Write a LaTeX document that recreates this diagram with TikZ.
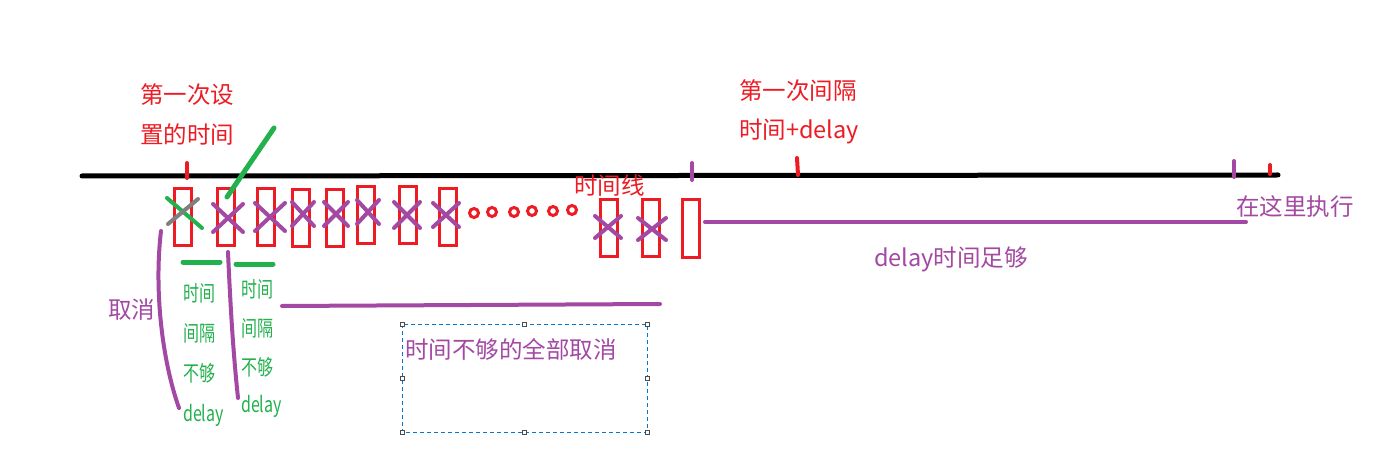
\documentclass[tikz,border=0pt]{standalone}
\usepackage{fontspec}
\usepackage{graphicx}
\setmainfont{Noto Sans CJK SC}
\definecolor{paintred}{HTML}{ED1C24}
\definecolor{paintpurple}{HTML}{A349A4}
\definecolor{paintgreen}{HTML}{22B14C}
\definecolor{paintgray}{HTML}{7F7F7F}
\definecolor{selblue}{HTML}{0078D7}
\newcommand{\tallnote}[1]{\scalebox{1}[1.35]{#1}}
\begin{document}
\begin{tikzpicture}[x=1pt,y=-1pt,
    slot/.style={draw=paintred,line width=3pt,minimum width=17pt,minimum height=57pt,inner sep=0pt},
    cross/.style={paintpurple,line width=4pt,line cap=round},
    pen/.style={line width=#1,line cap=round},
    label/.style={text=#1,font=\fontsize{23.5}{28}\selectfont,anchor=west,inner sep=0pt},
    note/.style={text=paintgreen,font=\fontsize{16}{20}\selectfont,anchor=west,inner sep=0pt},
    handle/.style={draw=black!70,fill=white,line width=0.8pt,minimum size=4pt,inner sep=0pt}]
  \fill[white] (0,0) rectangle (1388,470);
  \useasboundingbox (0,0) rectangle (1388,470);
  % time line and its ticks
  \draw[pen=5pt] (82,176) -- (1278,175);
  \draw[pen=4pt,paintred] (187,163) -- (187,178);
  \draw[pen=4pt,paintpurple] (692,163) -- (692,180);
  \draw[pen=4pt,paintred] (797,158) -- (798,175);
  \draw[pen=4pt,paintpurple] (1234,161) -- (1234,177);
  \draw[pen=4pt,paintred] (1270,165) -- (1270,174);
  % calls
  \foreach \n/\x/\y in {1/183/217,2/225.5/217,3/266/217.5,4/301/218,5/335/218,6/366/215.5,
      7/407.5/215.5,8/448/217.5,9/608.5/228,10/650.5/228,11/690.5/228.5}
    \node[slot] (s\n) at (\x,\y) {};
  \foreach \x/\y/\dx/\dy in {228/218/15/14,270/217/15/14,303/214/11/12,336/214/12/12,368/212/11/12,
      407/215/13/13,446/215/13/12,608/227/13/11,652/229/14/11}
    \draw[cross] (\x-\dx,\y-\dy) -- (\x+\dx,\y+\dy) (\x-\dx,\y+\dy) -- (\x+\dx,\y-\dy);
  \draw[pen=4pt,paintgreen] (167,198) -- (202,228);
  \draw[pen=4pt,paintgray] (168,224) -- (198,199);
  \draw[pen=5pt,paintgreen] (227,197) -- (274,128);
  \foreach \x/\y in {474/213,492/212,514/212,532/211,553/211,572/210}
    \draw[paintred,line width=3pt] (\x,\y) circle[radius=4.5];
  % brackets and spans
  \draw[pen=4pt,paintpurple] (161,231) .. controls (154,290) and (162,360) .. (179,408);
  \draw[pen=4pt,paintpurple] (228,252) .. controls (231,320) and (234,360) .. (238,398);
  \draw[pen=5pt,paintgreen] (183,262) -- (220,262);
  \draw[pen=5pt,paintgreen] (236,264) -- (273,264);
  \draw[pen=4pt,paintpurple] (282,306) -- (660,304);
  \draw[pen=4pt,paintpurple] (705,222) -- (1246,222);
  % labels
  \node[label=paintred] (set1) at (140,95) {第一次设};
  \node[label=paintred] (set2) at (140,135) {置的时间};
  \node[label=paintred] (line) at (574,186) {时间线};
  \node[label=paintred] (gap1) at (739,91) {第一次间隔};
  \node[label=paintred] (gap2) at (739,131) {时间+delay};
  \node[label=paintpurple] (run) at (1236,207) {在这里执行};
  \node[label=paintpurple] (enough) at (874,259) {delay时间足够};
  \node[label=paintpurple] (cancel) at (108,310) {取消};
  \foreach \t [count=\i] in {时间,间隔,不够,delay}
    \node[note] (na\i) at (183,{253+40*\i+(\i==4)*2}) {\tallnote{\t}};
  \foreach \t [count=\i] in {时间,间隔,不够,delay}
    \node[note] (nb\i) at (241,{250+39*\i}) {\tallnote{\t}};
  % selected text box
  \draw[selblue,line width=1pt,dash pattern=on 4pt off 3pt] (402,324) rectangle (647,432);
  \node[label=paintpurple] (all) at (405,349) {时间不够的全部取消};
  \foreach \x/\y [count=\i] in {402/324,524.5/324,647/324,402/378,647/378,402/432,524.5/432,647/432}
    \node[handle] (h\i) at (\x,\y) {};
\end{tikzpicture}
\end{document}
